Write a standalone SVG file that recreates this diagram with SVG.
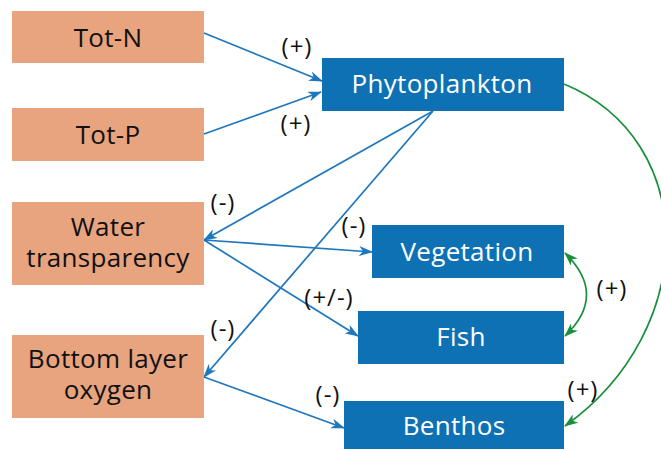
<svg xmlns="http://www.w3.org/2000/svg" width="661" height="450" viewBox="0 0 661 450">
<style>
.src{fill:#E8A37F}
.dst{fill:#0E71B4}
.t{font-family:"Open Sans","Noto Sans",sans-serif;font-size:26px;letter-spacing:0.3px;text-anchor:middle}
.tb{fill:#111}
.tw{fill:#fff}
.lab{font-family:"Open Sans","Noto Sans",sans-serif;font-size:24px;font-weight:500;letter-spacing:1px;fill:#111;text-anchor:middle}
.b{stroke:#1E77BD;stroke-width:1.7;fill:none;marker-end:url(#ab)}
.g{stroke:#17903A;stroke-width:1.7;fill:none}
</style>
<defs>
<marker id="ab" viewBox="0 0 14 10" refX="13" refY="5" markerWidth="14" markerHeight="10" markerUnits="userSpaceOnUse" orient="auto">
<path d="M0,0 L14,5 L0,10 L4,5 z" fill="#1E77BD"/>
</marker>
<marker id="ag" viewBox="0 0 14 10" refX="13" refY="5" markerWidth="14" markerHeight="10" markerUnits="userSpaceOnUse" orient="auto-start-reverse">
<path d="M0,0 L14,5 L0,10 L4,5 z" fill="#17903A"/>
</marker>
</defs>
<g id="connectors">
<path class="b" d="M204,33 L322,81"/>
<path class="b" d="M204,134 L321,92"/>
<path class="b" d="M433,111 L204,240"/>
<path class="b" d="M433,111 L204,377"/>
<path class="b" d="M204,240 L372,252"/>
<path class="b" d="M204,240 L358,336"/>
<path class="b" d="M204,377 L344,428"/>
<path class="g" d="M564,84 C700,140 700,330 565,426" marker-end="url(#ag)"/>
<path class="g" d="M565,253 Q608,295 565,336" marker-start="url(#ag)" marker-end="url(#ag)"/>
</g>
<g id="labels">
<text class="lab" x="297" y="55">(+)</text>
<text class="lab" x="296" y="132">(+)</text>
<text class="lab" x="223" y="211">(-)</text>
<text class="lab" x="354" y="234">(-)</text>
<text class="lab" x="329" y="306">(+/-)</text>
<text class="lab" x="223" y="337">(-)</text>
<text class="lab" x="328" y="403">(-)</text>
<text class="lab" x="612" y="297">(+)</text>
<text class="lab" x="583" y="398">(+)</text>
</g>
<g id="totn"><rect class="src" x="12" y="11" width="192" height="52"/><text class="t tb" x="108" y="47">Tot-N</text></g>
<g id="totp"><rect class="src" x="12" y="108" width="192" height="53"/><text class="t tb" x="108" y="144">Tot-P</text></g>
<g id="water"><rect class="src" x="12" y="202" width="192" height="83"/><text class="t tb"><tspan x="108" y="236">Water</tspan><tspan x="108" y="267">transparency</tspan></text></g>
<g id="oxygen"><rect class="src" x="12" y="335" width="192" height="83"/><text class="t tb"><tspan x="108" y="368">Bottom layer</tspan><tspan x="108" y="399">oxygen</tspan></text></g>
<g id="phyto"><rect class="dst" x="322" y="58" width="242" height="53"/><text class="t tw" x="442" y="93">Phytoplankton</text></g>
<g id="veg"><rect class="dst" x="372" y="225" width="192" height="53"/><text class="t tw" x="467" y="261">Vegetation</text></g>
<g id="fish"><rect class="dst" x="358" y="311" width="206" height="53"/><text class="t tw" x="461" y="346">Fish</text></g>
<g id="benthos"><rect class="dst" x="344" y="401" width="220" height="48"/><text class="t tw" x="454" y="435">Benthos</text></g>
</svg>
